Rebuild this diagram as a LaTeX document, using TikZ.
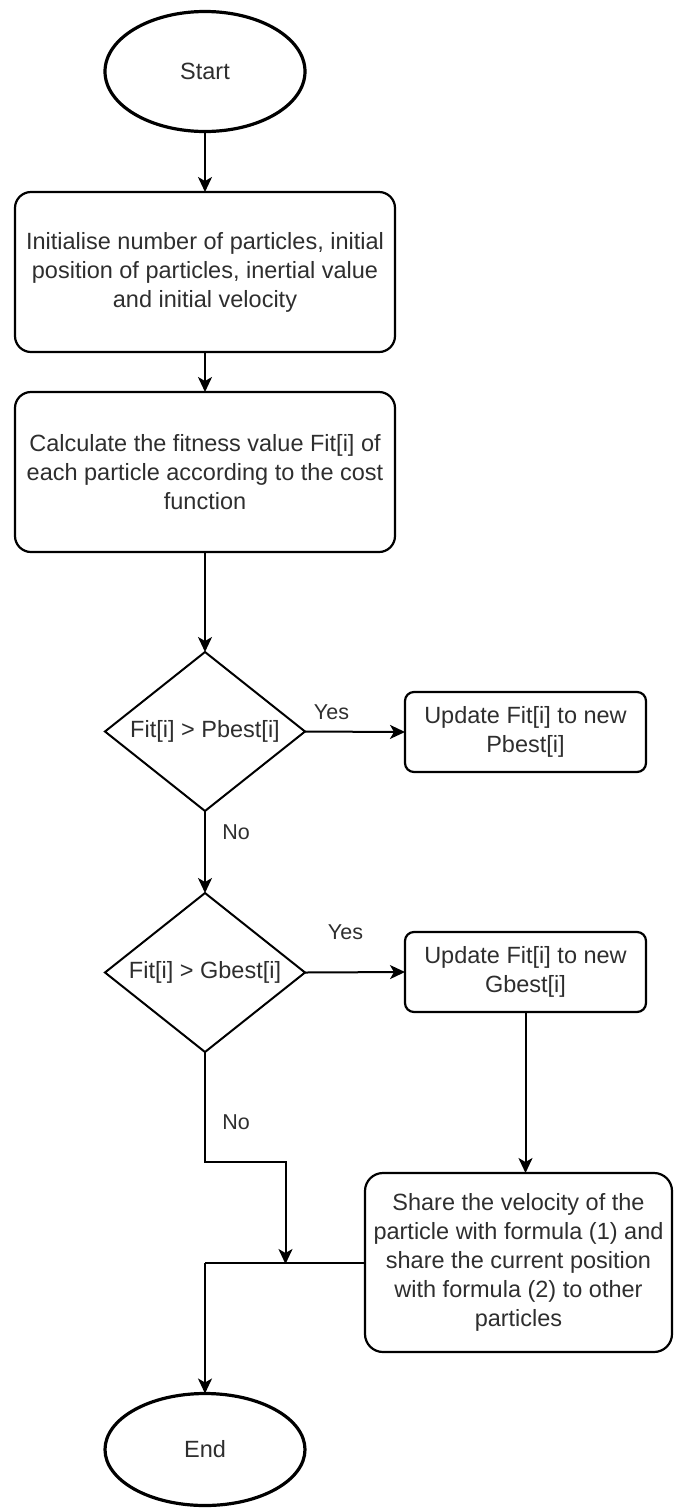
\documentclass[tikz,border=0pt]{standalone}
\usepackage{fontspec}
\setmainfont{Liberation Sans}
\usetikzlibrary{shapes.geometric,arrows.meta}
\definecolor{txt}{HTML}{2E2E2E}

\begin{document}
\begin{tikzpicture}[x=1pt,y=-1pt,
  every node/.style={text=txt, inner sep=0pt, outer sep=0pt,
    font=\fontsize{23.5}{29}\selectfont},
  terminal/.style={draw, ellipse, line width=3.2pt, minimum width=200pt},
  process/.style={draw, rectangle, line width=2.2pt, align=center},
  decision/.style={draw, diamond, line width=2pt, aspect=1.258,
    minimum width=200pt, minimum height=159pt},
  edgelabel/.style={font=\fontsize{21.5}{26}\selectfont},
  connector/.style={line width=2pt,
    -{Stealth[length=15pt,width=14pt,inset=4pt]}},
  plainline/.style={line width=2pt}
]
\useasboundingbox (0,0) rectangle (675,1508);

% terminals
\node[terminal, minimum height=120pt] (start) at (205,71.5) {Start};
\node[terminal, minimum height=112pt] (end) at (205,1449.5) {End};

% main column
\node[process, rounded corners=16pt, minimum width=380pt, minimum height=160pt]
  (init) at (205,272)
  {Initialise number of particles, initial\\position of particles, inertial value\\and initial velocity};
\node[process, rounded corners=16pt, minimum width=380pt, minimum height=160pt]
  (fit) at (205,472)
  {Calculate the fitness value Fit[i] of\\each particle according to the cost\\function};

% decisions
\node[decision] (dp) at (205,731.5) {Fit[i] > Pbest[i]};
\node[decision] (dg) at (205,972.5) {Fit[i] > Gbest[i]};

% right column
\node[process, rounded corners=9pt, minimum width=241pt, minimum height=80pt]
  (pb) at (525.5,732) {Update Fit[i] to new\\Pbest[i]};
\node[process, rounded corners=9pt, minimum width=241pt, minimum height=80pt]
  (gb) at (525.5,972) {Update Fit[i] to new\\Gbest[i]};
\node[process, rounded corners=18pt, minimum width=307pt, minimum height=179pt]
  (share) at (518.5,1262.5)
  {Share the velocity of the\\particle with formula (1) and\\share the current position\\with formula (2) to other\\particles};

% routing points of the merge
\coordinate (nobend) at (205,1162);
\coordinate (nodrop) at (285.5,1162);
\coordinate (merge) at (285.5,1264);
\coordinate (corner) at (205,1262.5);

% connectors
\draw[connector] (start) -- (init);
\draw[connector] (init) -- (fit);
\draw[connector] (fit) -- (dp);
\draw[connector] (dp.east) -- (pb.west);
\draw[connector] (dp.south) -- (dg.north);
\draw[connector] (dg.east) -- (gb.west);
\draw[connector] (gb.south) -- (gb.south |- share.north);
\draw[connector] (dg.south) -- (nobend) -- (nodrop) -- (merge);
\draw[plainline] (share.west) -- (corner);
\draw[connector] (corner) -- (end.north);

% edge labels
\node[edgelabel] (yes1) at (331.5,712) {Yes};
\node[edgelabel] (no1) at (236,832) {No};
\node[edgelabel] (yes2) at (345.5,932) {Yes};
\node[edgelabel] (no2) at (236,1122) {No};
\end{tikzpicture}
\end{document}
